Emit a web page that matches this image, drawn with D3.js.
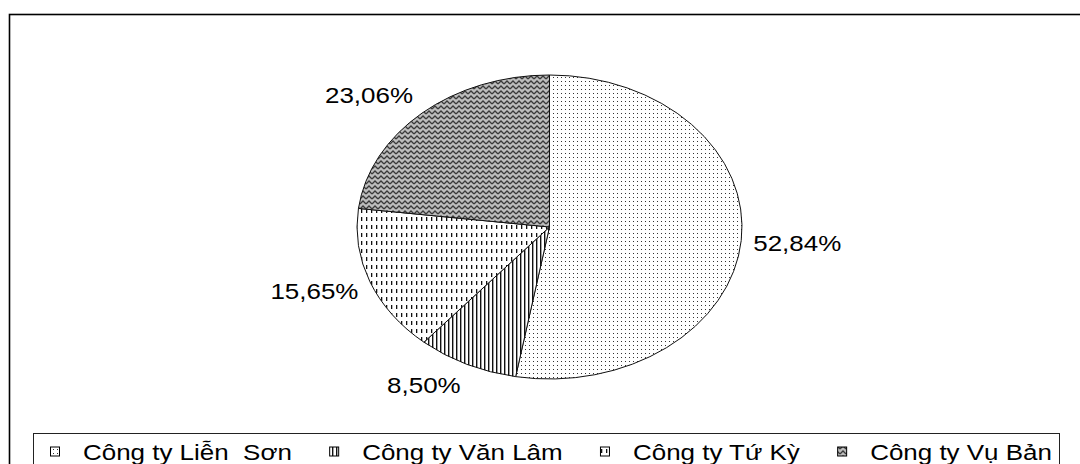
<!DOCTYPE html>
<html><head><meta charset="utf-8">
<script src="https://cdn.jsdelivr.net/npm/d3@7"></script>
<style>html,body{margin:0;padding:0;background:#fff;}svg{display:block;} text{white-space:pre;}</style>
</head><body>
<svg id="c" width="1080" height="464"></svg>
<script>
const categories = ["Công ty Liễn  Sơn", "Công ty Văn Lâm", "Công ty Tứ Kỳ", "Công ty Vụ Bản"];
const values = [52.84, 8.50, 15.65, 23.06];
const labels = ["52,84%", "8,50%", "15,65%", "23,06%"];
const patternIds = ["pDots", "pVLines", "pDashes", "pZig"];

const W = 1080, H = 464;
const svg = d3.select("#c");
const FONT = "'Liberation Sans', Arial, sans-serif";
const FS = 22, SX = 1.18;

// patterns
const defs = svg.append("defs");
let p = defs.append("pattern").attr("id","pDots").attr("patternUnits","userSpaceOnUse").attr("width",4).attr("height",4);
p.append("rect").attr("width",4).attr("height",4).attr("fill","#fff");
p.append("rect").attr("x",1).attr("y",1).attr("width",1).attr("height",1).attr("fill","#333");

p = defs.append("pattern").attr("id","pVLines").attr("patternUnits","userSpaceOnUse").attr("width",4).attr("height",4);
p.append("rect").attr("width",4).attr("height",4).attr("fill","#fff");
p.append("rect").attr("x",0).attr("y",0).attr("width",1.4).attr("height",4).attr("fill","#111");

p = defs.append("pattern").attr("id","pDashes").attr("patternUnits","userSpaceOnUse").attr("width",5).attr("height",8);
p.append("rect").attr("width",5).attr("height",8).attr("fill","#fff");
p.append("rect").attr("x",1).attr("y",1).attr("width",1.3).attr("height",4).attr("fill","#111");

p = defs.append("pattern").attr("id","pZig").attr("patternUnits","userSpaceOnUse").attr("width",6).attr("height",5);
p.append("rect").attr("width",6).attr("height",5).attr("fill","#bdbdbd");
p.append("path").attr("d","M0,4 L3,1 L6,4").attr("fill","none").attr("stroke","#3a3a3a").attr("stroke-width",1.3);

// outer border
svg.append("rect").attr("x",9.5).attr("y",14.5).attr("width",W).attr("height",H)
  .attr("fill","none").attr("stroke","#000").attr("stroke-width",1.6);

// pie
const cx = 549.5, cy = 227, rx = 192.5, ry = 152;
const pie = d3.pie().sort(null).value(d => d.v).startAngle(0).endAngle(2*Math.PI);
const data = values.map((v,i)=>({v, i}));
const arcs = pie(data);
const pt = (a, k=1) => [cx + Math.sin(a)*rx*k, cy - Math.cos(a)*ry*k];

const g = svg.append("g");
arcs.forEach(a => {
  const p0 = pt(a.startAngle), p1 = pt(a.endAngle);
  const large = (a.endAngle - a.startAngle) > Math.PI ? 1 : 0;
  const path = d3.path();
  path.moveTo(cx, cy);
  path.lineTo(p0[0], p0[1]);
  const d = path.toString() + ` A${rx},${ry} 0 ${large} 1 ${p1[0]},${p1[1]} Z`;
  g.append("path").attr("d", d).attr("fill", `url(#${patternIds[a.data.i]})`)
    .attr("stroke","#111").attr("stroke-width",1);
});

// labels
const clamp = v => Math.max(-1, Math.min(1, v));
arcs.forEach(a => {
  const m = (a.startAngle + a.endAngle)/2;
  const e = pt(m);
  let ux = e[0]-cx, uy = e[1]-cy; const L = Math.hypot(ux,uy); ux/=L; uy/=L;
  const t = svg.append("text").text(labels[a.data.i])
    .attr("font-family",FONT).attr("font-size",FS).attr("fill","#000")
    .attr("text-anchor","middle");
  const w = t.node().getComputedTextLength()*SX;
  const gap = 12, hh = 10;
  const x = e[0] + (w/2)*clamp(2*ux) + gap*ux;
  const y = e[1] + hh*clamp(2*uy) + gap*uy;
  t.attr("transform",`translate(${x},${y+8}) scale(${SX},1)`);
});

// legend
const lgX = 33.5, lgY = 433.5, lgR = 1059.5;
svg.append("rect").attr("x",lgX).attr("y",lgY).attr("width",lgR-lgX).attr("height",60)
  .attr("fill","#fff").attr("stroke","#222").attr("stroke-width",1);
const items = svg.append("g");
const widths = [];
const texts = categories.map((c,i)=>{
  const t = items.append("text").text(c).attr("font-family",FONT).attr("font-size",FS).attr("fill","#000");
  widths.push(t.node().getComputedTextLength()*SX);
  return t;
});
const icon = 9, iconGap = 24;
const startX = 50, endX = 1052;
const totalItems = d3.sum(widths) + categories.length*(icon+iconGap);
const between = (endX - startX - totalItems)/(categories.length-1);
let x = startX;
const ly = 452;
categories.forEach((c,i)=>{
  items.append("rect").attr("x",x+0.5).attr("y",ly-icon/2-0.5).attr("width",icon).attr("height",icon)
    .attr("fill",`url(#${patternIds[i]})`).attr("stroke","#000").attr("stroke-width",1);
  const tx = x + icon + iconGap;
  texts[i].attr("transform",`translate(${tx},${ly+8}) scale(${SX},1)`);
  x = tx + widths[i] + between;
});
</script>
</body></html>
